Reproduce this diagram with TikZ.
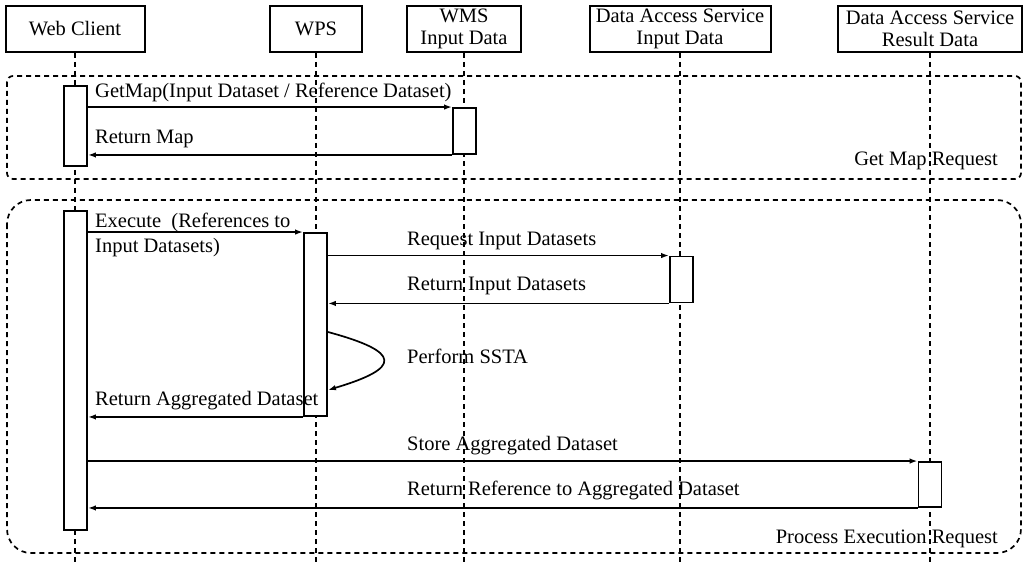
\documentclass[tikz,border=0pt]{standalone}
\usepackage{fontspec}
\setmainfont{Liberation Serif}
\usetikzlibrary{arrows.meta}
\begin{document}
\begin{tikzpicture}[x=1pt,y=-1pt,
  font=\fontsize{20.5}{22}\selectfont,
  head/.style={draw,line width=2pt,fill=white,minimum height=46pt,inner sep=0pt,align=center},
  act/.style={draw,line width=1.9pt,fill=white,minimum width=23pt,inner sep=0pt},
  life/.style={line width=1.7pt,dash pattern=on 5pt off 4pt},
  grp/.style={line width=1.7pt,dash pattern=on 5pt off 4pt},
  msg/.style={line width=1.7pt,-{Latex[length=8pt,width=5.5pt]}},
  lbl/.style={inner sep=0pt,anchor=base west},
  glbl/.style={inner sep=0pt,anchor=base east}]
\useasboundingbox (0,0) rectangle (1027,564);
\fill[white] (0,0) rectangle (1027,564);

% lifeline heads
\node[head,minimum width=139pt] (wc)   at (75,29)  {Web Client};
\node[head,minimum width=92pt]  (wps)  at (316,29) {WPS};
\node[head,minimum width=114pt] (wms)  at (464,29) {WMS\\Input Data};
\node[head,minimum width=181pt] (dasi) at (680,29) {Data Access Service\\Input Data};
\node[head,minimum width=184pt] (dasr) at (930,29) {Data Access Service\\Result Data};

% lifelines
\coordinate (wcEnd)   at (wc.south |- 0,564);
\coordinate (wpsEnd)  at (wps.south |- 0,564);
\coordinate (wmsEnd)  at (wms.south |- 0,564);
\coordinate (dasiEnd) at (dasi.south |- 0,564);
\coordinate (dasrEnd) at (dasr.south |- 0,564);
\draw[life] (wc.south) -- (wcEnd);
\draw[life] (wps.south) -- (wpsEnd);
\draw[life] (wms.south) -- (wmsEnd);
\draw[life] (dasi.south) -- (dasiEnd);
\draw[life] (dasr.south) -- (dasrEnd);

% interaction frames
\draw[grp,rounded corners=6pt] (7,76) rectangle (1021,179);
\draw[grp,rounded corners=24pt] (7,200) rectangle (1021,553);
\node[glbl] (gmap) at (998,166) {Get Map Request};
\node[glbl] (gexe) at (998,543) {Process Execution Request};

% activations
\node[act,minimum height=80pt]  (wc1)   at (75.5,126)  {};
\node[act,minimum height=46pt]  (wms1)  at (464.5,131) {};
\node[act,minimum height=319pt] (wc2)   at (75.5,370.5) {};
\node[act,minimum height=183pt] (wps1)  at (315.5,324.5) {};
\node[act,minimum height=46pt]  (dasi1) at (681.5,279.5) {};
\node[act,minimum height=45pt]  (dasr1) at (930,484.5) {};

% get map request
\draw[msg] (wc1.east |- wms1.north) -- (wms1.north west);
\node[lbl] (tGetMap) at (95,98) {GetMap(Input Dataset / Reference Dataset)};
\draw[msg] (wms1.south west) -- (wc1.east |- wms1.south);
\node[lbl] (tRetMap) at (95,144) {Return Map};

% process execution request
\draw[msg] (wc2.east |- wps1.north) -- (wps1.north west);
\node[lbl] (tExec1) at (95,227) {Execute~ (References to};
\node[lbl] (tExec2) at (95,252) {Input Datasets)};

\draw[msg] (wps1.east |- dasi1.north) -- (dasi1.north west);
\node[lbl] (tReq) at (407,245) {Request Input Datasets};
\draw[msg] (dasi1.south west) -- (wps1.east |- dasi1.south);
\node[lbl] (tRetIn) at (407,290) {Return Input Datasets};

\coordinate (loopS) at (wps1.east |- 0,332);
\coordinate (loopE) at (wps1.east |- 0,390);
\draw[msg] (loopS) .. controls (402,352) and (402,368) .. (loopE);
\node[lbl] (tSSTA) at (407,363) {Perform SSTA};

\draw[msg] (wps1.south west) -- (wc2.east |- wps1.south);
\node[lbl] (tRetAgg) at (95,405) {Return Aggregated Dataset};

\draw[msg] (wc2.east |- dasr1.north) -- (dasr1.north west);
\node[lbl] (tStore) at (407,450) {Store Aggregated Dataset};
\draw[msg] (dasr1.south west) -- (wc2.east |- dasr1.south);
\node[lbl] (tRetRef) at (407,495) {Return Reference to Aggregated Dataset};
\end{tikzpicture}
\end{document}
